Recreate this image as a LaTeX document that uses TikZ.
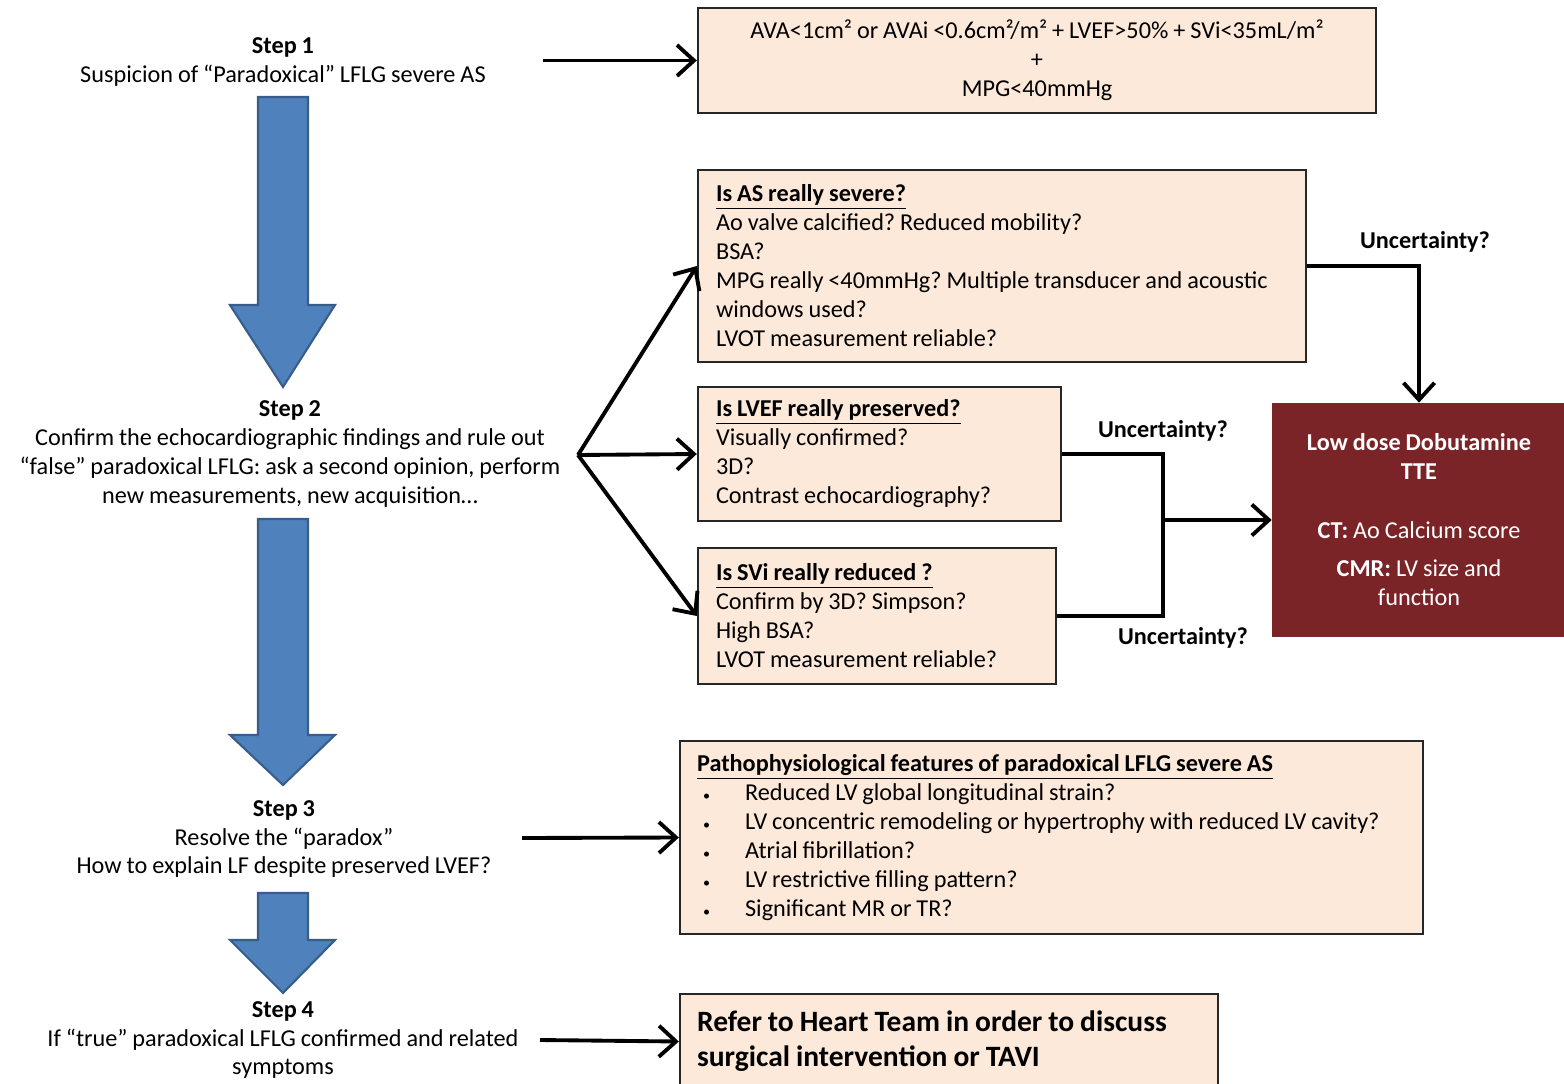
\documentclass[tikz,border=0pt]{standalone}
\usepackage{fontspec}
\setmainfont{Carlito}[WordSpace=0.9]
\frenchspacing
\usetikzlibrary{arrows.meta}
\definecolor{peach}{HTML}{FDE9D9}
\definecolor{darkred}{HTML}{7A2428}
\definecolor{blockblue}{HTML}{4F81BD}
\definecolor{blockedge}{HTML}{385D8A}
\newcommand{\bul}{\makebox[0.96cm][l]{\hspace{0.12cm}{\footnotesize\textbullet}}}
\newcommand{\head}[1]{\underline{\textbf{#1}}}
% big blue step arrow: x centre, shaft top, head base, tip
\newcommand{\stepdownarrow}[4]{%
  \draw [stepdown] (#1-25,#2) -- (#1+25,#2) -- (#1+25,#3) -- (#1+52,#3)
    -- (#1,#4) -- (#1-53,#3) -- (#1-25,#3) -- cycle;}

\begin{document}
\begin{tikzpicture}[x=0.02cm, y=-0.02cm,
    txt/.style={font=\fontsize{13.8}{16.5}\selectfont, align=center, inner sep=0pt},
    box/.style={draw=black!85, line width=1.4pt, fill=peach, inner xsep=0.36cm, inner ysep=0pt,
      font=\fontsize{13.8}{16.5}\selectfont, align=flush left},
    flow/.style={line width=2.2pt, -{Straight Barb[length=0.34cm,width=0.62cm]}},
    link/.style={line width=2.2pt},
    stepdown/.style={fill=blockblue, draw=blockedge, line width=1.2pt},
    unc/.style={font=\fontsize{13.8}{16.5}\selectfont\bfseries, inner sep=0pt}]
  \useasboundingbox (0,0) rectangle (1564,1084);

  % steps on the left
  \node [txt] (s1) at (283,62) {\textbf{Step 1}\\Suspicion of “Paradoxical” LFLG severe AS};
  \node [txt] (s2) at (290,454) {\textbf{Step 2}\\Confirm the echocardiographic findings and rule out\\
    “false” paradoxical LFLG: ask a second opinion, perform\\new measurements, new acquisition…};
  \node [txt] (s3) at (284,839) {\textbf{Step 3}\\Resolve the “paradox”\\How to explain LF despite preserved LVEF?};
  \node [txt] (s4) at (283,1040) {\textbf{Step 4}\\If “true” paradoxical LFLG confirmed and related\\symptoms};

  \stepdownarrow{283}{97}{305}{387} % Step 1 to Step 2
  \stepdownarrow{283}{519}{735}{785} % Step 2 to Step 3
  \stepdownarrow{283}{893}{940}{993} % Step 3 to Step 4

  % boxes on the right
  \node [box, align=center, minimum width=13.56cm, minimum height=2.1cm] (b1) at (1037,60.5)
    {AVA<1cm² or AVAi <0.6cm²/m² + LVEF>50\% + SVi<35mL/m²\\+\\MPG<40mmHg};
  \node [box, text width=11.44cm, minimum height=3.84cm] (b2) at (1002,266)
    {\head{Is AS really severe?}\\Ao valve calcified? Reduced mobility?\\BSA?\\
     MPG really <40mmHg? Multiple transducer and acoustic\\windows used?\\LVOT measurement reliable?};
  \node [box, text width=6.54cm, minimum height=2.68cm] (b3) at (879.5,454)
    {\head{Is LVEF really preserved?}\\Visually confirmed?\\3D?\\Contrast echocardiography?};
  \node [box, text width=6.44cm, minimum height=2.72cm] (b4) at (877,616)
    {\head{Is SVi really reduced ?}\\Confirm by 3D? Simpson?\\High BSA?\\LVOT measurement reliable?};
  \node [fill=darkred, text=white, text width=5.4cm, align=flush center, minimum width=5.88cm,
    minimum height=4.68cm, inner sep=0pt, font=\fontsize{13.8}{16.5}\selectfont] (dk) at (1419,520)
    {\textbf{Low dose Dobutamine}\\\textbf{TTE}\\[0.6cm]\textbf{CT:} Ao Calcium score\\[0.18cm]
     \textbf{CMR:} LV size and\\function};
  \node [box, inner xsep=0.34cm, text width=14.18cm, minimum height=3.86cm] (b5) at (1051.5,837.5)
    {\head{Pathophysiological features of paradoxical LFLG severe AS}\\
     \bul Reduced LV global longitudinal strain?\\
     \bul LV concentric remodeling or hypertrophy with reduced LV cavity?\\
     \bul Atrial fibrillation?\\
     \bul LV restrictive filling pattern?\\
     \bul Significant MR or TR?};
  \node [box, inner xsep=0.34cm, text width=10.08cm, minimum height=1.9cm,
    font=\fontsize{16.8}{20}\selectfont\bfseries] (b6) at (949,1041.5)
    {Refer to Heart Team in order to discuss\\surgical intervention or TAVI};

  % connectors
  \coordinate (a1) at (543,60.5);
  \coordinate (fan) at (578,455);
  \coordinate (a3) at (522,838);
  \coordinate (a4) at (540,1040);
  \coordinate (jn) at (1163,520);

  \draw [flow] (a1) -- (b1.west);
  \draw [flow] (fan) -- (b2.west);
  \draw [flow] (fan) -- (b3.west);
  \draw [flow] (fan) -- (b4.west);
  \draw [flow] (a3) -- (b5.west);
  \draw [flow] (a4) -- (b6.west);

  \draw [flow] (b2.east) -| (dk.north);
  \draw [link] (b3.east) -| (jn) |- (b4.east);
  \draw [flow] (jn) -- (dk.west);

  \node [unc] (u1) at (1425,242) {Uncertainty?};
  \node [unc] (u2) at (1163,431) {Uncertainty?};
  \node [unc] (u3) at (1183,638) {Uncertainty?};
\end{tikzpicture}
\end{document}
